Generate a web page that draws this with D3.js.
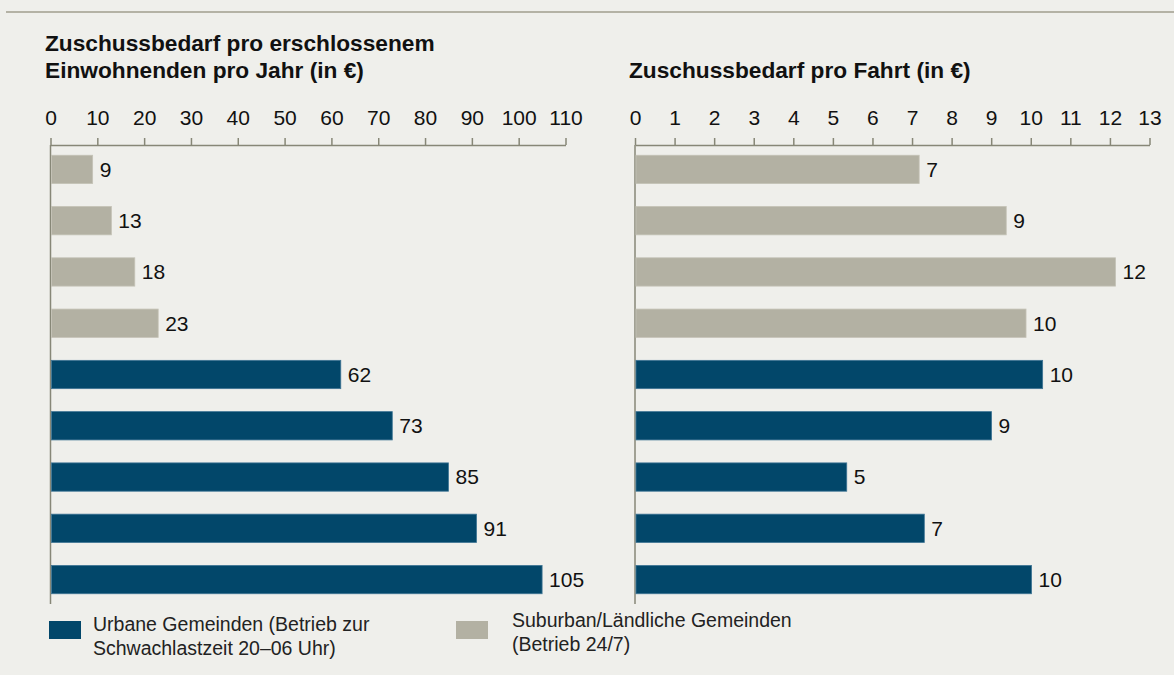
<!DOCTYPE html>
<head>
    <meta charset="utf-8">
    <title>Zuschussbedarf</title>
</head>
<style>
    html, body {
        margin: 0;
        padding: 0;
        background: #efefeb;
    }
    svg {
        display: block;
        font-family: "Liberation Sans", Arial, sans-serif;
    }
    .axis path, .axis line {
        stroke: #878777;
        stroke-width: 1.5px;
    }
    .axis text {
        font-size: 21px;
        fill: #111;
    }
    .title {
        font-size: 22.7px;
        font-weight: bold;
        fill: #111;
    }
    .value {
        font-size: 21px;
        fill: #111;
    }
    .legend text {
        font-size: 19.5px;
        fill: #222;
    }
</style>
<body>
<script src="https://d3js.org/d3.v7.min.js"></script>
<script>
    var width = 1174,
        height = 675;

    // one row per bar, top to bottom
    var rows = [0, 1, 2, 3, 4, 5, 6, 7, 8];
    var groups = ["sub", "sub", "sub", "sub", "urb", "urb", "urb", "urb", "urb"];
    var perResident = [9, 13, 18, 23, 62, 73, 85, 91, 105];
    var perTrip = [7.18, 9.38, 12.14, 9.88, 10.30, 9.01, 5.35, 7.31, 10.02];
    var residentTicks = [0, 10, 20, 30, 40, 50, 60, 70, 80, 90, 100, 110];
    var tripTicks = [0, 1, 2, 3, 4, 5, 6, 7, 8, 9, 10, 11, 12, 13];

    var colors = {urb: "#02476a", sub: "#b3b1a3"};
    var edges = {urb: "#3f7595", sub: "#c4c2b6"};

    var svg = d3.select("body").append("svg")
        .attr("width", width)
        .attr("height", height);

    // top rule
    svg.append("line")
        .attr("x1", 6).attr("x2", width)
        .attr("y1", 12).attr("y2", 12)
        .attr("stroke", "#b4b2a5")
        .attr("stroke-width", 2);

    var y = d3.scaleBand()
        .domain(rows)
        .range([145, 604])
        .paddingInner(0.448)
        .paddingOuter(0.2);

    function panel(values, ticks, range, titleLines, titleX) {
        var x = d3.scaleLinear()
            .domain([0, ticks[ticks.length - 1]])
            .range(range);

        var g = svg.append("g");

        g.append("g")
            .attr("class", "axis")
            .attr("transform", "translate(0,145)")
            .call(d3.axisTop(x).tickValues(ticks).tickSize(7).tickSizeOuter(0).tickPadding(13));

        g.append("line")
            .attr("x1", x(0)).attr("x2", x(0))
            .attr("y1", 145).attr("y2", 604)
            .attr("stroke", "#878777")
            .attr("stroke-width", 1.5);

        g.selectAll(".bar")
            .data(rows)
            .enter().append("rect")
            .attr("class", "bar")
            .attr("x", x(0) + 1)
            .attr("y", function (d) { return y(d); })
            .attr("width", function (d) { return x(values[d]) - x(0) - 1; })
            .attr("height", y.bandwidth())
            .attr("fill", function (d) { return colors[groups[d]]; })
            .attr("stroke", function (d) { return edges[groups[d]]; })
            .attr("stroke-width", 0.8);

        g.selectAll(".value")
            .data(rows)
            .enter().append("text")
            .attr("class", "value")
            .attr("x", function (d) { return x(values[d]) + 7; })
            .attr("y", function (d) { return y(d) + y.bandwidth() / 2; })
            .attr("dy", "0.35em")
            .text(function (d) { return Math.round(values[d]); });

        var t = g.append("text")
            .attr("class", "title")
            .attr("x", titleX)
            .attr("y", 78 - (titleLines.length - 1) * 26.7);
        titleLines.forEach(function (line, i) {
            t.append("tspan")
                .attr("x", titleX)
                .attr("dy", i === 0 ? 0 : 26.7)
                .text(line);
        });
    }

    panel(perResident, residentTicks, [50.5, 565.5],
        ["Zuschussbedarf pro erschlossenem", "Einwohnenden pro Jahr (in €)"], 45);
    panel(perTrip, tripTicks, [635, 1149.5],
        ["Zuschussbedarf pro Fahrt (in €)"], 629);

    // legend
    var legendItems = [
        {key: "urb", x: 49, tx: 93, lines: ["Urbane Gemeinden (Betrieb zur", "Schwachlastzeit 20–06 Uhr)"], base: 631},
        {key: "sub", x: 456, tx: 512, lines: ["Suburban/Ländliche Gemeinden", "(Betrieb 24/7)"], base: 627}
    ];
    var lg = svg.append("g").attr("class", "legend");
    legendItems.forEach(function (item) {
        lg.append("rect")
            .attr("x", item.x).attr("y", 621)
            .attr("width", 32).attr("height", 18)
            .attr("fill", colors[item.key]);
        item.lines.forEach(function (line, i) {
            lg.append("text")
                .attr("x", item.tx)
                .attr("y", item.base + i * 24)
                .text(line);
        });
    });
</script>
</body>
